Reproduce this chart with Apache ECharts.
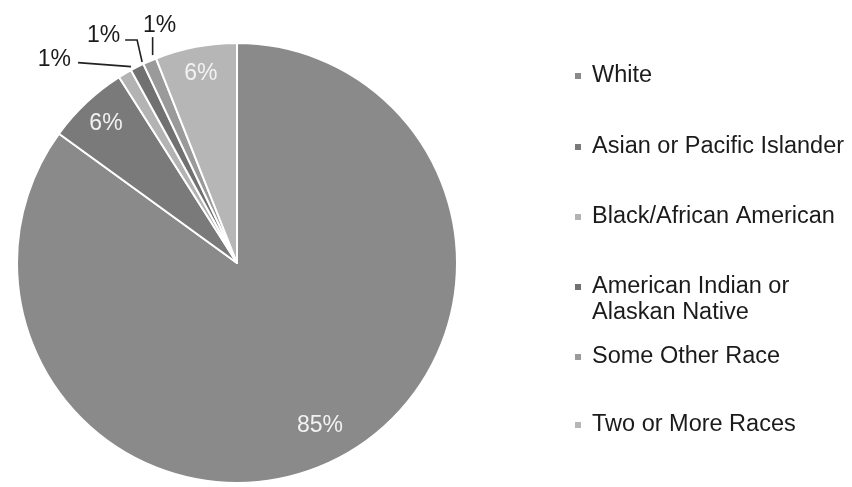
<!DOCTYPE html>
<html>
<head>
<meta charset="utf-8">
<script src="https://cdn.jsdelivr.net/npm/echarts@6/dist/echarts.min.js"></script>
<style>
  html, body { margin: 0; padding: 0; background: #fff; }
  #chart { width: 852px; height: 487px; }
</style>
</head>
<body>
<div id="chart"></div>
<script>
// Race / ethnicity shares (percent of population)
const categories = [
  'White',
  'Asian or Pacific Islander',
  'Black/African American',
  'American Indian or\nAlaskan Native',
  'Some Other Race',
  'Two or More Races'
];
const shares = [85, 6, 1, 1, 1, 6];
const sliceColors = ['#8a8a8a', '#7a7a7a', '#b3b3b3', '#717171', '#9a9a9a', '#b6b6b6'];

const FONT = '"Liberation Sans", Arial, Helvetica, sans-serif';
const CENTER = [237, 263];
const RADIUS = 220;

// Vertical centre of each legend row (first text line)
const legendRows = [76, 147, 217, 287, 357, 425];

const chart = echarts.init(document.getElementById('chart'), null, { renderer: 'canvas' });

const legends = categories.map((name, i) => {
  const multi = name.indexOf('\n') >= 0;
  return {
    show: true,
    left: 573,
    // a leading blank line keeps the swatch level with the first text line
    top: multi ? legendRows[i] - 39 : legendRows[i] - 13,
    orient: 'vertical',
    padding: 0,
    itemWidth: 8,
    itemHeight: 8,
    icon: 'rect',
    selectedMode: false,
    data: [name],
    formatter: multi ? (n) => '\n' + n : (n) => n,
    textStyle: {
      fontFamily: FONT,
      fontSize: 23.5,
      lineHeight: 26,
      color: '#1b1b1b',
      padding: [0, 0, 0, 5]
    }
  };
});

// Leader-line shapes for the three thin slices, relative to the point on the rim
const smallLabelPlan = {
  2: { line: [[6, -7], [-47, -11]], text: [-54, -14], align: 'right' },
  3: { line: [[5, -5], [0, -27], [-12, -27]], text: [-17, -31], align: 'right' },
  4: { line: [[3, -6], [3, -24]], text: [10, -35], align: 'center' }
};
// Radial position of the in-slice labels, as a share of the radius
const insideLabelReach = { 0: 0.83, 1: 0.87, 5: 0.875 };

const option = {
  backgroundColor: '#ffffff',
  animation: false,
  color: sliceColors,
  legend: legends,
  series: [{
    type: 'pie',
    center: CENTER,
    radius: RADIUS,
    startAngle: 90,
    clockwise: true,
    avoidLabelOverlap: false,
    itemStyle: { borderColor: '#ffffff', borderWidth: 2 },
    label: {
      fontFamily: FONT,
      fontSize: 23,
      formatter: (p) => p.value + '%'
    },
    labelLine: { show: false },
    data: categories.map((name, i) => {
      const small = smallLabelPlan[i] !== undefined;
      return {
        name: name,
        value: shares[i],
        label: small
          ? { position: 'outside', color: '#1b1b1b' }
          : { position: 'inside', color: '#f2f2f2' },
        labelLine: small
          ? { show: true, length: 10, length2: 10, lineStyle: { color: '#222', width: 1.6 } }
          : { show: false }
      };
    }),
    labelLayout: function (params) {
      const plan = smallLabelPlan[params.dataIndex];
      const r = params.labelRect;
      if (!plan) {
        // push in-slice labels out toward the rim along the slice's mid line
        const lx = r.x + r.width / 2, ly = r.y + r.height / 2;
        const dx = lx - CENTER[0], dy = ly - CENTER[1];
        const len = Math.sqrt(dx * dx + dy * dy) || 1;
        const reach = insideLabelReach[params.dataIndex] * RADIUS;
        return {
          x: CENTER[0] + dx / len * reach,
          y: CENTER[1] + dy / len * reach,
          align: 'center',
          verticalAlign: 'middle'
        };
      }
      const p0 = params.labelLinePoints[0];
      const pts = plan.line.map(d => [p0[0] + d[0], p0[1] + d[1]]);
      return {
        x: p0[0] + plan.text[0],
        y: p0[1] + plan.text[1],
        align: plan.align,
        verticalAlign: 'middle',
        labelLinePoints: pts
      };
    }
  }]
};

chart.setOption(option);
</script>
</body>
</html>
